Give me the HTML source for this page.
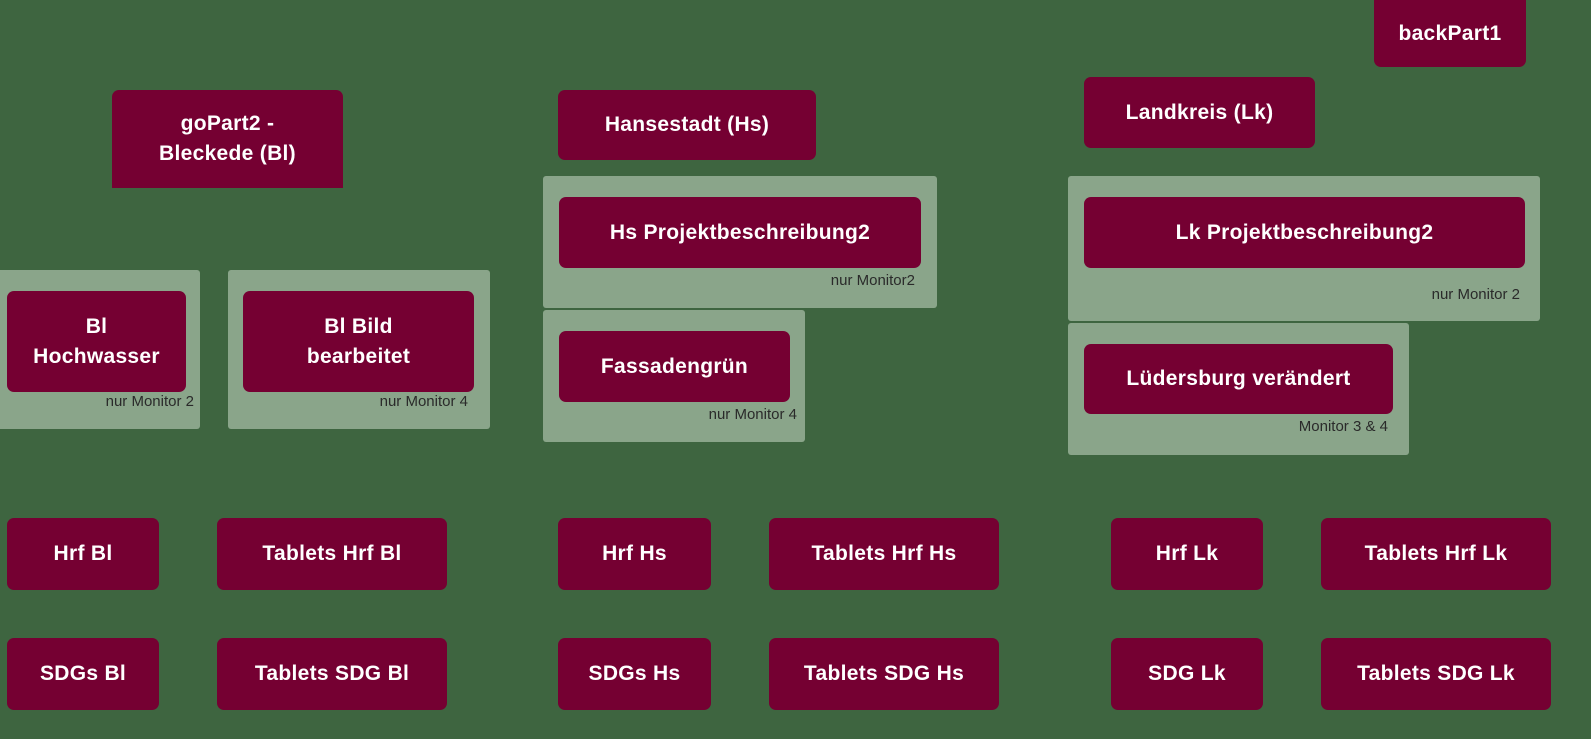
<!DOCTYPE html>
<html><head><meta charset="utf-8"><style>
body{margin:0;width:1591px;height:739px;background:#3e6540;position:relative;overflow:hidden;font-family:"Liberation Sans",sans-serif}
.p{position:absolute;background:#8aa58a;border-radius:3px}
.n{position:absolute;background:#750032;color:#fff;border-radius:7px;display:flex;align-items:center;justify-content:center;text-align:center;font-size:21px;font-weight:bold;line-height:30px;letter-spacing:0.3px}
.l{position:absolute;color:#2a2a2a;font-size:15px;text-align:right}
</style></head><body>
<div class="p" style="left:543px;top:176px;width:394px;height:132px"></div>
<div class="p" style="left:543px;top:310px;width:262px;height:132px"></div>
<div class="p" style="left:1068px;top:176px;width:472px;height:145px"></div>
<div class="p" style="left:1068px;top:323px;width:341px;height:132px"></div>
<div class="p" style="left:-4px;top:270px;width:204px;height:159px"></div>
<div class="p" style="left:228px;top:270px;width:262px;height:159px"></div>

<div class="n" style="left:1374px;top:-10px;width:152px;height:77px;padding-top:10px;box-sizing:border-box">backPart1</div>
<div class="n" style="left:112px;top:90px;width:231px;height:98px;border-radius:7px 7px 0 0">goPart2 -<br>Bleckede (Bl)</div>
<div class="n" style="left:558px;top:90px;width:258px;height:70px">Hansestadt (Hs)</div>
<div class="n" style="left:1084px;top:77px;width:231px;height:71px">Landkreis (Lk)</div>

<div class="n" style="left:559px;top:197px;width:362px;height:71px">Hs Projektbeschreibung2</div>
<div class="l" style="right:676px;top:272px">nur Monitor2</div>
<div class="n" style="left:559px;top:331px;width:231px;height:71px">Fassadengrün</div>
<div class="l" style="right:794px;top:406px">nur Monitor 4</div>
<div class="n" style="left:1084px;top:197px;width:441px;height:71px">Lk Projektbeschreibung2</div>
<div class="l" style="right:71px;top:286px">nur Monitor 2</div>
<div class="n" style="left:1084px;top:344px;width:309px;height:70px">Lüdersburg verändert</div>
<div class="l" style="right:203px;top:418px">Monitor 3 &amp; 4</div>
<div class="n" style="left:7px;top:291px;width:179px;height:101px">Bl<br>Hochwasser</div>
<div class="l" style="right:1397px;top:393px">nur Monitor 2</div>
<div class="n" style="left:243px;top:291px;width:231px;height:101px">Bl Bild<br>bearbeitet</div>
<div class="l" style="right:1123px;top:393px">nur Monitor 4</div>

<div class="n" style="left:7px;top:518px;width:152px;height:72px">Hrf Bl</div>
<div class="n" style="left:217px;top:518px;width:230px;height:72px">Tablets Hrf Bl</div>
<div class="n" style="left:558px;top:518px;width:153px;height:72px">Hrf Hs</div>
<div class="n" style="left:769px;top:518px;width:230px;height:72px">Tablets Hrf Hs</div>
<div class="n" style="left:1111px;top:518px;width:152px;height:72px">Hrf Lk</div>
<div class="n" style="left:1321px;top:518px;width:230px;height:72px">Tablets Hrf Lk</div>

<div class="n" style="left:7px;top:638px;width:152px;height:72px">SDGs Bl</div>
<div class="n" style="left:217px;top:638px;width:230px;height:72px">Tablets SDG Bl</div>
<div class="n" style="left:558px;top:638px;width:153px;height:72px">SDGs Hs</div>
<div class="n" style="left:769px;top:638px;width:230px;height:72px">Tablets SDG Hs</div>
<div class="n" style="left:1111px;top:638px;width:152px;height:72px">SDG Lk</div>
<div class="n" style="left:1321px;top:638px;width:230px;height:72px">Tablets SDG Lk</div>
</body></html>
